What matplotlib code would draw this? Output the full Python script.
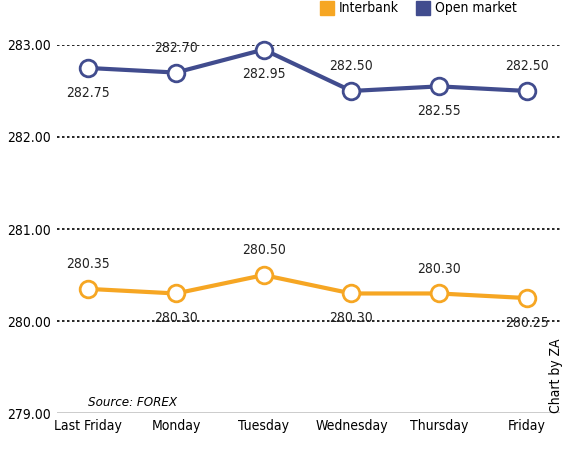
import matplotlib.pyplot as plt
from matplotlib.patches import Rectangle

plt.rcParams['font.family'] = ['DejaVu Sans']
plt.rcParams['font.stretch'] = 'condensed'

days = ['Last Friday', 'Monday', 'Tuesday', 'Wednesday', 'Thursday', 'Friday']
open_market = [282.75, 282.70, 282.95, 282.50, 282.55, 282.50]
interbank = [280.35, 280.30, 280.50, 280.30, 280.30, 280.25]
open_pos = ['below', 'above', 'below', 'above', 'below', 'above']
inter_pos = ['above', 'below', 'above', 'below', 'above', 'below']
yticks = [279, 280, 281, 282, 283]

orange = '#F6A623'
navy = '#414C8E'

fig = plt.figure(figsize=(5.66, 4.54), dpi=100)
ax = fig.add_axes([0.1, 0.09, 0.89, 0.811])
x = range(len(days))

for y in yticks[1:]:
    ax.axhline(y, color='black', linestyle=(0, (1.5, 1.5)), linewidth=1.2, zorder=1)
ax.axhline(279, color='black', linewidth=1, zorder=1)

for vals, pos, c in [(open_market, open_pos, navy), (interbank, inter_pos, orange)]:
    ax.plot(x, vals, color=c, linewidth=3, marker='o', markersize=12,
            markerfacecolor='white', markeredgecolor=c, markeredgewidth=2,
            clip_on=False, zorder=3)
    for i, (v, p) in enumerate(zip(vals, pos)):
        dy = 0.27 if p == 'above' else -0.27
        ax.text(i, v + dy, f'{v:.2f}', ha='center', va='center', fontsize=10, color='#222222')

ax.set_xlim(-0.36, 5.38)
ax.set_ylim(279, 283)
ax.set_xticks(list(x))
ax.set_xticklabels(days, fontsize=10)
ax.set_yticks(yticks)
ax.set_yticklabels([f'{v:.2f}' for v in yticks], fontsize=10)
ax.tick_params(length=0, pad=4)
for s in ax.spines.values():
    s.set_visible(False)

ax.text(0.0, 279.08, 'Source: FOREX', fontsize=9.5, style='italic')
fig.text(0.982, 0.09, 'Chart by ZA', rotation=90, fontsize=10, ha='center', va='bottom')

# legend
fig.patches.append(Rectangle((0.565, 0.968), 0.025, 0.03, transform=fig.transFigure, color=orange))
fig.text(0.598, 0.982, 'Interbank', fontsize=10, va='center')
fig.patches.append(Rectangle((0.735, 0.968), 0.025, 0.03, transform=fig.transFigure, color=navy))
fig.text(0.768, 0.982, 'Open market', fontsize=10, va='center')

fig.savefig('out.png', dpi=100)
